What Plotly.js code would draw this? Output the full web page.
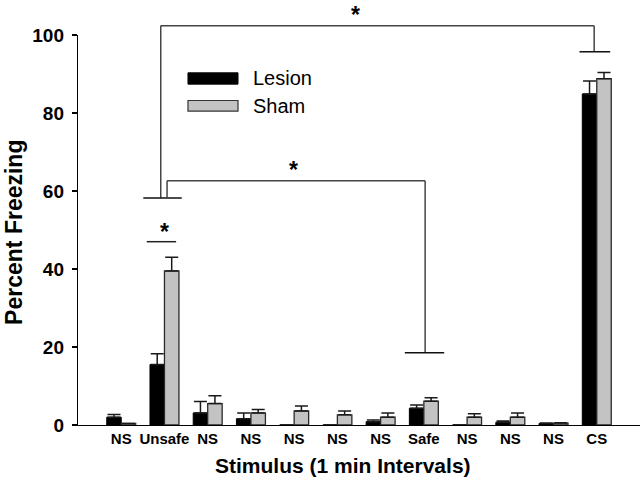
<!DOCTYPE html>
<html>
<head>
<meta charset="utf-8">
<script src="https://cdn.plot.ly/plotly-3.0.1.min.js"></script>
<style>html,body{margin:0;padding:0;background:#fff;}#chart{width:640px;height:481px;}</style>
</head>
<body>
<div id="chart"></div>
<script>
// ---- data ----
const tickLabels = ['NS','Unsafe','NS','NS','NS','NS','NS','Safe','NS','NS','NS','CS'];
const positions = [0,1,2,3,4,5,6,7,8,9,10,11];
const lesion    = [2.0, 15.5, 3.1, 1.6, 0, 0, 0.85, 4.3, 0, 0.7, 0.4, 84.9];
const lesionErr = [0.7, 2.8, 2.9, 1.5, null, null, 0.45, 0.8, null, 0.3, 0.1, 3.3];
const sham      = [0.4, 39.5, 5.5, 3.1, 3.6, 2.6, 2.0, 6.1, 2.0, 2.0, 0.5, 88.8];
const shamErr   = [null, 3.5, 2.0, 0.9, 1.3, 1.0, 1.1, 0.9, 0.9, 1.1, 0.1, 1.6];
const seriesNames = ['Lesion', 'Sham'];
const yTicks = [0, 20, 40, 60, 80, 100];
// significance brackets (x in category index, y in percent)
const sigLines = [
  // top bracket: Unsafe vs CS
  {x0: 0.914, y0: 102.4, x1: 10.94, y1: 102.4, c: '#444'},
  {x0: 0.914, y0: 102.4, x1: 0.914, y1: 58.2, c: '#444'},
  {x0: 10.94, y0: 102.4, x1: 10.94, y1: 95.7, c: '#444'},
  {x0: 10.60, y0: 95.7, x1: 11.31, y1: 95.7, c: '#111'},
  {x0: 0.511, y0: 58.2, x1: 1.40, y1: 58.2, c: '#111'},
  // middle bracket: Unsafe vs Safe
  {x0: 1.06, y0: 58.2, x1: 1.06, y1: 62.6, c: '#444'},
  {x0: 1.06, y0: 62.6, x1: 7.03, y1: 62.6, c: '#444'},
  {x0: 7.03, y0: 62.6, x1: 7.03, y1: 18.5, c: '#444'},
  {x0: 6.56, y0: 18.5, x1: 7.47, y1: 18.5, c: '#111'},
  // Unsafe lesion vs sham
  {x0: 0.59, y0: 47.0, x1: 1.27, y1: 47.0, c: '#222'}
];
// star markers: anchor 'top' for the one at the very top edge
const stars = [ {x: 5.43, y: 108.8, a: 'top'}, {x: 3.98, y: 65.3, a: 'middle'}, {x: 1.0, y: 49.6, a: 'middle'} ];
const yMax = 100;

const FONT = 'Liberation Sans, Arial, Helvetica, sans-serif';

const traces = [
  {
    type: 'bar', name: seriesNames[0], x: positions, y: lesion,
    marker: {color: '#000000', line: {color: '#000000', width: 1}},
    error_y: {type: 'data', array: lesionErr, symmetric: false, arrayminus: lesion.map(() => 0), color: '#1a1a1a', thickness: 1.5, width: 6.5},
    showlegend: false
  },
  {
    type: 'bar', name: seriesNames[1], x: positions, y: sham,
    marker: {color: '#c3c3c3', line: {color: '#2a2a2a', width: 1.3}},
    error_y: {type: 'data', array: shamErr, symmetric: false, arrayminus: sham.map(() => 0), color: '#1a1a1a', thickness: 1.5, width: 6.5},
    showlegend: false
  }
];

const shapes = sigLines.map(s => ({
  type: 'line', xref: 'x', yref: 'paper',
  x0: s.x0, x1: s.x1, y0: s.y0 / yMax, y1: s.y1 / yMax,
  line: {color: s.c, width: 1.5}
}));
// legend swatches
shapes.push({type: 'rect', xref: 'paper', yref: 'paper', x0: 0.1957, x1: 0.2847, y0: 0.874, y1: 0.903,
  fillcolor: '#000', line: {color: '#000', width: 1}});
shapes.push({type: 'rect', xref: 'paper', yref: 'paper', x0: 0.1957, x1: 0.2847, y0: 0.805, y1: 0.832,
  fillcolor: '#c3c3c3', line: {color: '#333', width: 1.2}});

const annotations = stars.map(s => ({
  xref: 'x', yref: 'paper', x: s.x, y: s.y / yMax, text: '<b>*</b>', showarrow: false, borderpad: 0,
  font: {family: FONT, size: 23, color: '#000'}, xanchor: 'center', yanchor: s.a
}));
annotations.push({xref: 'paper', yref: 'paper', x: 0.3073, y: 0.890, text: seriesNames[0], showarrow: false,
  xanchor: 'left', yanchor: 'middle', font: {family: FONT, size: 20, color: '#000'}});
annotations.push({xref: 'paper', yref: 'paper', x: 0.3073, y: 0.818, text: seriesNames[1], showarrow: false,
  xanchor: 'left', yanchor: 'middle', font: {family: FONT, size: 20, color: '#000'}});
annotations.push({xref: 'paper', yref: 'paper', x: 0.4715, y: -0.105, text: 'Stimulus (1 min Intervals)', showarrow: false,
  xanchor: 'center', yanchor: 'middle', font: {family: FONT, size: 21, color: '#000', weight: 'bold'}});
annotations.push({xref: 'paper', yref: 'paper', x: -0.114, y: 0.495, text: 'Percent Freezing', showarrow: false,
  textangle: -90, xanchor: 'center', yanchor: 'middle', font: {family: FONT, size: 23, color: '#000', weight: 'bold'}});

const layout = {
  width: 640, height: 481,
  margin: {l: 78, r: 0, t: 35, b: 56, pad: 0},
  paper_bgcolor: '#fff', plot_bgcolor: '#fff',
  barmode: 'group', bargap: 0.33, bargroupgap: 0,
  showlegend: false,
  font: {family: FONT, color: '#000'},
  xaxis: {
    range: [-1, 12], tickvals: positions, ticktext: tickLabels,
    showline: true, linecolor: '#000', linewidth: 1.2, ticks: '', showgrid: false, zeroline: false,
    tickfont: {family: FONT, size: 15, color: '#000', weight: 'bold'}
  },
  yaxis: {
    range: [0, yMax], tickvals: yTicks, ticks: 'outside', ticklen: 5, tickwidth: 1.2, tickcolor: '#000',
    showline: true, linecolor: '#000', linewidth: 1.2, showgrid: false, zeroline: false,
    ticklabelstandoff: 4,
    tickfont: {family: FONT, size: 19, color: '#000', weight: 'bold'}
  },
  shapes: shapes,
  annotations: annotations
};

Plotly.newPlot('chart', traces, layout, {staticPlot: true, displayModeBar: false});
</script>
</body>
</html>
